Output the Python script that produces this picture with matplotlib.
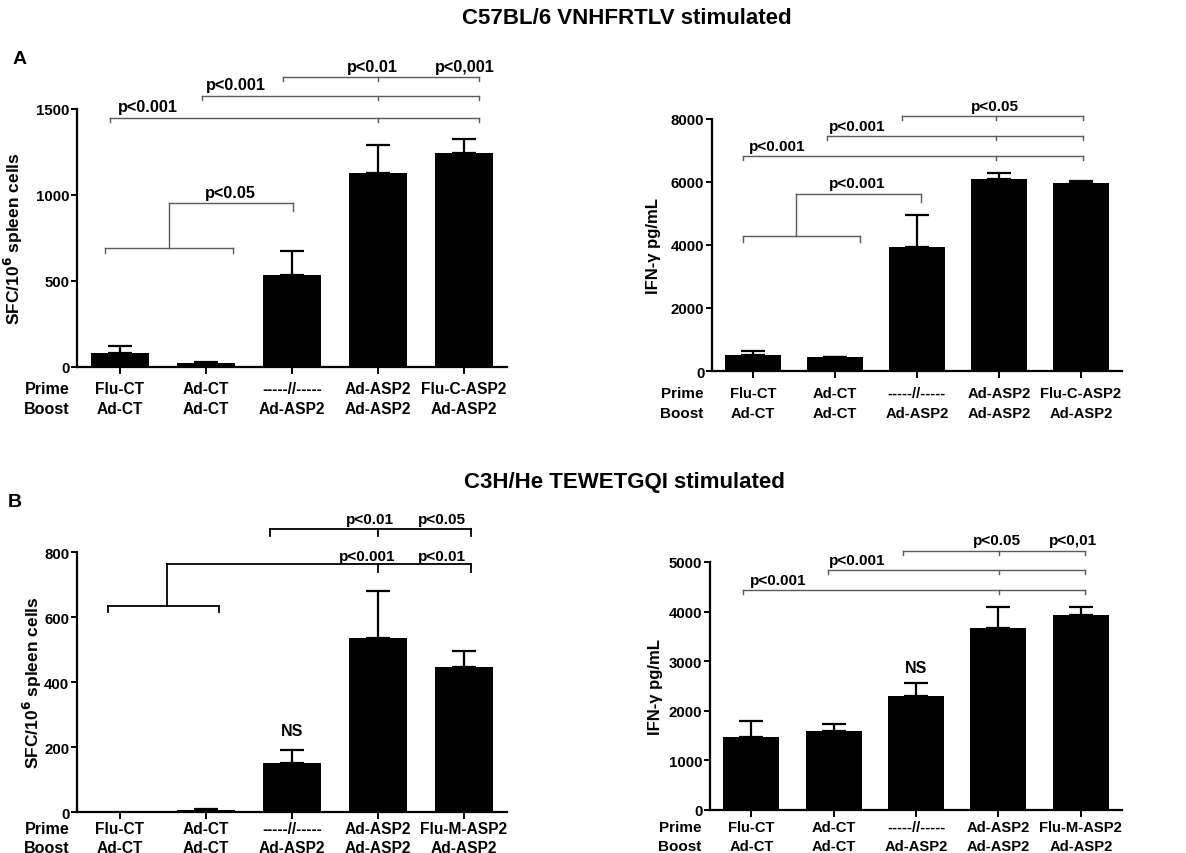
import numpy as np
import matplotlib
matplotlib.use("Agg")
import matplotlib.pyplot as plt

plt.rcParams["font.family"] = ["Liberation Sans", "DejaVu Sans"]
plt.rcParams["font.weight"] = "bold"
plt.rcParams["axes.labelweight"] = "bold"

# groups: prime / boost regimens
prime_a = ["Flu-CT", "Ad-CT", "-----//-----", "Ad-ASP2", "Flu-C-ASP2"]
prime_b = ["Flu-CT", "Ad-CT", "-----//-----", "Ad-ASP2", "Flu-M-ASP2"]
boost = ["Ad-CT", "Ad-CT", "Ad-ASP2", "Ad-ASP2", "Ad-ASP2"]

# C57BL/6, VNHFRTLV
sfc_a = [80, 25, 535, 1125, 1245]
sfc_a_err = [42, 5, 140, 165, 80]
ifn_a = [500, 430, 3950, 6100, 5980]
ifn_a_err = [150, 20, 1000, 200, 50]

# C3H/He, TEWETGQI
sfc_b = [0, 7, 150, 535, 445]
sfc_b_err = [0, 3, 40, 145, 50]
ifn_b = [1480, 1600, 2290, 3660, 3940]
ifn_b_err = [320, 130, 270, 430, 160]

PT = 0.72  # points per pixel at dpi=100
GRAY = "#5a5a5a"


def draw_panel(ax, vals, errs, primes, ylim, yticks, ylabel, ylab_size, ylab_x, rows, cat_size):
    x = np.arange(len(vals))
    vals = np.asarray(vals, float)
    errs = np.asarray(errs, float)
    ax.bar(x, vals, width=0.68, color="black", zorder=2)
    has_err = errs > 0
    ax.errorbar(x[has_err], vals[has_err], yerr=[np.zeros(has_err.sum()), errs[has_err]],
                fmt="none", ecolor="black", elinewidth=1.6, capsize=8.5, capthick=1.6, zorder=1)
    ax.set_xlim(-0.5, 4.5)
    ax.set_ylim(*ylim)
    ax.set_yticks(yticks)
    ax.set_xticks(x)
    ax.set_xticklabels([])
    for s in ["top", "right"]:
        ax.spines[s].set_visible(False)
    for s in ["left", "bottom"]:
        ax.spines[s].set_linewidth(1.6)
    ax.tick_params(axis="y", length=4, width=1.4, pad=1.5, labelsize=10.8)
    ax.tick_params(axis="x", length=5, width=1.4)
    ax.set_ylabel(ylabel, fontsize=ylab_size)
    ax.yaxis.set_label_coords(ylab_x, 0.5)
    r1, r2 = rows
    for i, (p, b) in enumerate(zip(primes, boost)):
        ax.annotate(p, xy=(i, 0), xycoords=("data", "axes fraction"),
                    xytext=(0, -r1 * PT), textcoords="offset points",
                    ha="center", va="center", fontsize=cat_size)
        ax.annotate(b, xy=(i, 0), xycoords=("data", "axes fraction"),
                    xytext=(0, -r2 * PT), textcoords="offset points",
                    ha="center", va="center", fontsize=cat_size)
    for txt, r in [("Prime", r1), ("Boost", r2)]:
        ax.annotate(txt, xy=(0, 0), xycoords="axes fraction",
                    xytext=(-30 * PT, -r * PT), textcoords="offset points",
                    ha="center", va="center", fontsize=cat_size + 0.4)


def bracket(ax, x0, x1, y, drops, tick, color=GRAY, lw=1.0):
    ax.plot([x0, x1], [y, y], color=color, lw=lw, clip_on=False)
    for xd in drops:
        ax.plot([xd, xd], [y, y - tick], color=color, lw=lw, clip_on=False)


def plabel(ax, txt, x, y, dy=2.5, size=11.7):
    ax.annotate(txt, xy=(x, y), xytext=(0, dy), textcoords="offset points",
                ha="center", va="bottom", fontsize=size, annotation_clip=False)


fig = plt.figure(figsize=(11.86, 8.54), dpi=100)

ax1 = fig.add_axes([0.0649, 0.5691, 0.3626, 0.3021])
ax2 = fig.add_axes([0.6003, 0.5644, 0.3457, 0.2951])
ax3 = fig.add_axes([0.0649, 0.0480, 0.3626, 0.3044])
ax4 = fig.add_axes([0.5987, 0.0504, 0.3474, 0.2904])

sfc_label = "SFC/10$^{\\mathbf{6}}$ spleen cells"
draw_panel(ax1, sfc_a, sfc_a_err, prime_a, (0, 1500), [0, 500, 1000, 1500],
           sfc_label, 12.5, -0.12, (22, 42), 11.2)
draw_panel(ax2, ifn_a, ifn_a_err, prime_a, (0, 8000), [0, 2000, 4000, 6000, 8000],
           "IFN-γ pg/mL", 12, -0.125, (22, 42), 10.6)
draw_panel(ax3, sfc_b, sfc_b_err, prime_b, (0, 800), [0, 200, 400, 600, 800],
           sfc_label, 12.5, -0.077, (16, 35), 11.2)
draw_panel(ax4, ifn_b, ifn_b_err, prime_b, (0, 5000), [0, 1000, 2000, 3000, 4000, 5000],
           "IFN-γ pg/mL", 12, -0.115, (17, 36), 10.6)

# A, SFC
bracket(ax1, -0.17, 1.31, 690, [-0.17, 1.31], 25)
ax1.plot([0.57, 0.57], [690, 953], color=GRAY, lw=1.0, clip_on=False)
bracket(ax1, 0.57, 2.01, 953, [2.01], 45)
plabel(ax1, "p<0.05", 1.28, 953)
bracket(ax1, -0.12, 4.17, 1448, [-0.12, 3.0, 4.17], 25)
bracket(ax1, 0.95, 4.17, 1576, [0.95, 3.0, 4.17], 25)
bracket(ax1, 1.90, 4.17, 1686, [1.90, 3.0, 4.17], 25)
plabel(ax1, "p<0.001", 0.33, 1448)
plabel(ax1, "p<0.001", 1.35, 1576)
plabel(ax1, "p<0.01", 2.94, 1686)
plabel(ax1, "p<0,001", 4.01, 1686)

# A, IFN-γ
bracket(ax2, -0.12, 1.30, 4285, [-0.12, 1.30], 200)
ax2.plot([0.52, 0.52], [4285, 5620], color=GRAY, lw=1.0, clip_on=False)
bracket(ax2, 0.52, 2.05, 5620, [2.05], 260)
plabel(ax2, "p<0.001", 1.27, 5620, size=11)
bracket(ax2, -0.12, 4.02, 6825, [-0.12, 2.96, 4.02], 130)
bracket(ax2, 0.90, 4.02, 7460, [0.90, 2.96, 4.02], 130)
bracket(ax2, 1.82, 4.02, 8095, [1.82, 2.96, 4.02], 130)
plabel(ax2, "p<0.001", 0.30, 6825, size=11)
plabel(ax2, "p<0.001", 1.27, 7460, size=11)
plabel(ax2, "p<0.05", 2.95, 8095, size=11)

# B, SFC
bracket(ax3, -0.14, 1.15, 634, [-0.14, 1.15], 18, color="black", lw=1.3)
ax3.plot([0.55, 0.55], [634, 763], color="black", lw=1.3, clip_on=False)
bracket(ax3, 0.55, 4.08, 763, [3.0, 4.08], 25, color="black", lw=1.3)
bracket(ax3, 1.75, 4.08, 870, [1.75, 3.0, 4.08], 22, color="black", lw=1.3)
plabel(ax3, "p<0.01", 2.91, 870, size=11)
plabel(ax3, "p<0.05", 3.74, 870, size=11)
plabel(ax3, "p<0.001", 2.87, 763, dy=0.5, size=11)
plabel(ax3, "p<0.01", 3.74, 763, dy=0.5, size=11)
ax3.text(2, 252, "NS", ha="center", va="center", fontsize=11.5)

# B, IFN-γ
bracket(ax4, -0.10, 4.05, 4427, [-0.10, 3.01, 4.05], 80)
bracket(ax4, 0.93, 4.05, 4830, [0.93, 3.01, 4.05], 80)
bracket(ax4, 1.84, 4.05, 5230, [1.84, 3.01, 4.05], 80)
plabel(ax4, "p<0.001", 0.33, 4427, size=11)
plabel(ax4, "p<0.001", 1.29, 4830, size=11)
plabel(ax4, "p<0.05", 2.98, 5230, size=11)
plabel(ax4, "p<0,01", 3.91, 5230, size=11)
ax4.text(2, 2880, "NS", ha="center", va="center", fontsize=11.5)

fig.text(627 / 1186, 1 - 18 / 854, "C57BL/6 VNHFRTLV stimulated", ha="center", va="center", fontsize=16)
fig.text(624 / 1186, 1 - 483 / 854, "C3H/He TEWETGQI stimulated", ha="center", va="center", fontsize=16)
fig.text(20 / 1186, 1 - 60 / 854, "A", ha="center", va="center", fontsize=14)
fig.text(15 / 1186, 1 - 503 / 854, "B", ha="center", va="center", fontsize=14)

fig.savefig("out.png", dpi=100)
plt.close(fig)
